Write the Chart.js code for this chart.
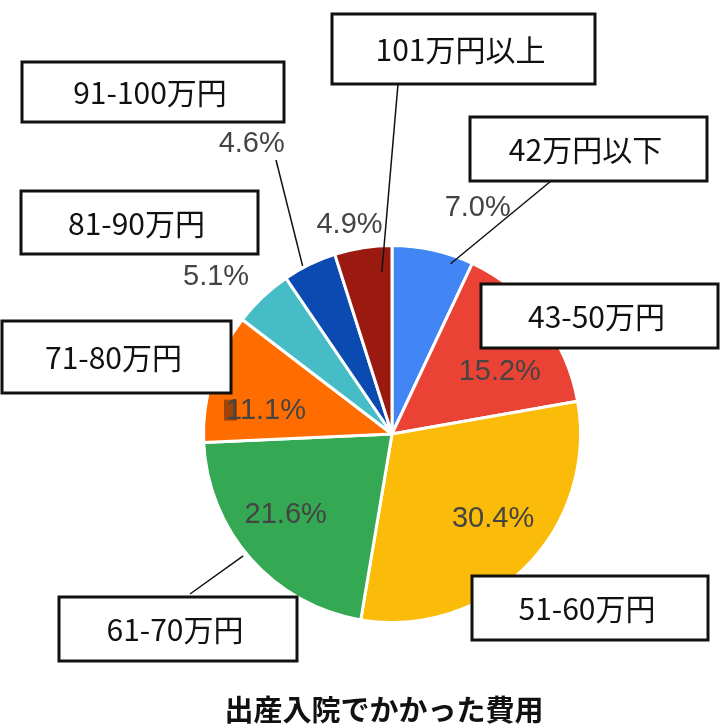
<!DOCTYPE html>
<html>
<head>
<meta charset="utf-8">
<script src="https://cdn.jsdelivr.net/npm/chart.js@4.4.1/dist/chart.umd.min.js"></script>
<style>
      html, body { margin: 0; padding: 0; background: #fff; }
      #wrap { position: relative; width: 720px; height: 727px; }
</style>
</head>
<body>
<div id="wrap"><canvas id="cost_chart" width="720" height="727"></canvas></div>
<script>
const categories = ['42万円以下', '43-50万円', '51-60万円', '61-70万円', '71-80万円', '81-90万円', '91-100万円', '101万円以上'];
const shares = [7.0, 15.2, 30.4, 21.6, 11.1, 5.1, 4.6, 4.9];
const sliceColors = ['#4285F4', '#EA4335', '#FABC09', '#34A853', '#FF6D01', '#46BDC6', '#0B4AB0', '#9A1A12'];
const chartTitle = '出産入院でかかった費用';

// label boxes: [left, top, right, bottom]
const boxes = [
      [470, 117, 707, 181],
      [481, 284, 718, 348],
      [472, 576, 708, 640],
      [59, 597, 297, 661],
      [2, 321, 231, 393],
      [21, 191, 258, 254],
      [22, 62, 284, 122],
      [332, 14, 595, 84]
];

// percent text: [degrees clockwise from top, fraction of radius]
const pctPlace = [
      [20.8, 1.28],
      [60, 0.66],
      [130, 0.70],
      [232.6, 0.71],
      [280.5, 0.68],
      [311.7, 1.25],
      [334.2, 1.71],
      [348.5, 1.13]
];

// leader lines: [x, y at box, degrees, fraction of radius]
const leaders = [
      [551, 181, 19, 0.955],
      [190, 594, 230.7, 1.02],
      [276, 160, 332, 1.01],
      [398, 84, 356.4, 0.86]
];

function polar(arc, deg, frac)
{
      const a = deg * Math.PI / 180;
      const r = arc.outerRadius * frac;
      return { x: arc.x + r * Math.sin(a), y: arc.y - r * Math.cos(a) };
}

const labelPlugin = {
      id: 'labelPlugin',
      afterDraw: function (chart)
      {
            const ctx = chart.ctx;
            const arcs = chart.getDatasetMeta(0).data;
            const ref = arcs[0];
            ctx.save();

            ctx.strokeStyle = '#111';
            ctx.lineWidth = 1.5;
            for (let i = 0; i < leaders.length; i++)
            {
                  const p = polar(ref, leaders[i][2], leaders[i][3]);
                  ctx.beginPath();
                  ctx.moveTo(leaders[i][0], leaders[i][1]);
                  ctx.lineTo(p.x, p.y);
                  ctx.stroke();
            }

            ctx.textAlign = 'center';
            ctx.textBaseline = 'middle';
            for (let i = 0; i < categories.length; i++)
            {
                  const b = boxes[i];
                  ctx.fillStyle = '#fff';
                  ctx.fillRect(b[0], b[1], b[2] - b[0], b[3] - b[1]);
                  ctx.lineWidth = 3;
                  ctx.strokeStyle = '#111';
                  ctx.strokeRect(b[0], b[1], b[2] - b[0], b[3] - b[1]);
                  ctx.fillStyle = '#111';
                  ctx.font = "30px 'Noto Sans CJK JP'";
                  ctx.fillText(categories[i], (b[0] + b[2]) / 2 - 3, (b[1] + b[3]) / 2 + 1);
            }

            // dark smudge behind the first digit of the orange label
            {
                  const p = polar(ref, pctPlace[4][0], pctPlace[4][1]);
                  ctx.fillStyle = 'rgba(40, 20, 10, 0.45)';
                  ctx.fillRect(p.x - 42, p.y - 11, 13, 21);
            }

            ctx.fillStyle = '#444';
            ctx.font = "29px 'Liberation Sans', Arial, sans-serif";
            for (let i = 0; i < shares.length; i++)
            {
                  const p = polar(ref, pctPlace[i][0], pctPlace[i][1]);
                  ctx.fillText(shares[i].toFixed(1) + '%', p.x, p.y);
            }

            ctx.fillStyle = '#111';
            ctx.font = "bold 29px 'Noto Sans CJK JP'";
            ctx.fillText(chartTitle, 384, 710);
            ctx.restore();
      }
};

const config = {
      type: 'pie',
      data: {
            labels: categories,
            datasets: [{
                  data: shares,
                  backgroundColor: sliceColors,
                  borderColor: '#fff',
                  borderWidth: 3,
                  hoverBorderWidth: 3
            }]
      },
      options: {
            responsive: false,
            animation: false,
            layout: {
                  padding: { left: 202, right: 138, top: 244, bottom: 103 }
            },
            plugins: {
                  legend: { display: false },
                  tooltip: { enabled: false },
                  title: { display: false }
            }
      },
      plugins: [labelPlugin]
};

new Chart(document.getElementById('cost_chart'), config);
</script>
</body>
</html>
